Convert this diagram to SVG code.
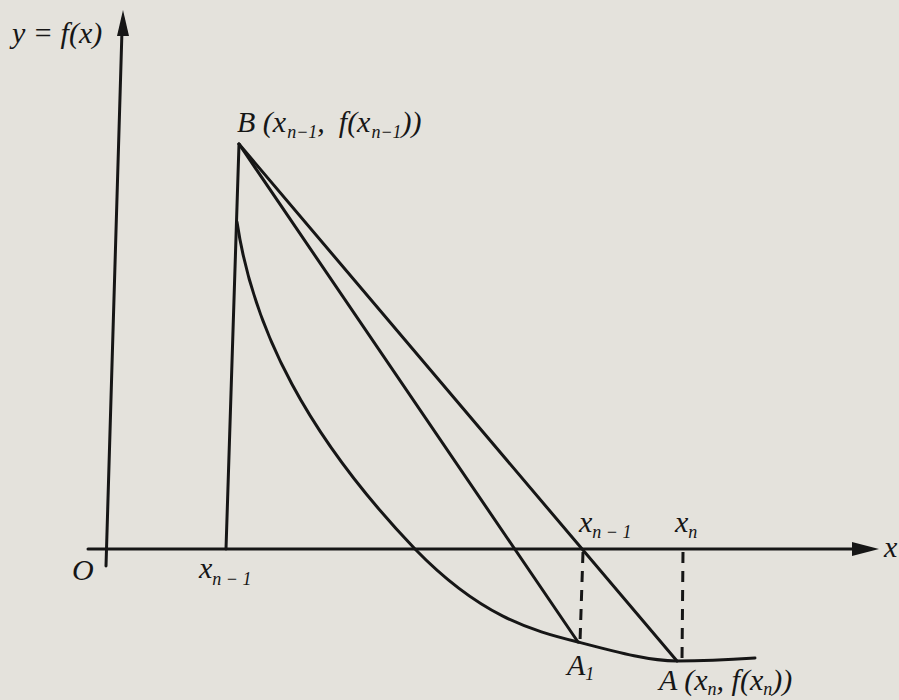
<svg xmlns="http://www.w3.org/2000/svg" width="899" height="700" viewBox="0 0 899 700">
<style>
  .ln { stroke: #161616; stroke-width: 3; fill: none; stroke-linecap: round; }
  .dash { stroke: #161616; stroke-width: 3; fill: none; stroke-dasharray: 11 8; }
  .t { font-family: "Liberation Serif", "Times New Roman", serif; font-style: italic; font-size: 30px; fill: #161616; }
  .s { font-size: 18px; }
  .ar { fill: #161616; }
</style>
<rect x="0" y="0" width="899" height="700" fill="#e4e2dc"/>

<g id="axes">
  <line class="ln" x1="106" y1="566" x2="122" y2="30"/>
  <polygon class="ar" points="123,10 117,36 129,36"/>
  <line class="ln" x1="88" y1="549" x2="858" y2="549"/>
  <polygon class="ar" points="879,549 852,542 852,556"/>
  <text class="t" x="884" y="557" font-size="28">x</text>
  <text class="t" x="72" y="580">O</text>
  <text class="t" x="12" y="43">y = f(x)</text>
</g>

<g id="connectors">
  <line id="vertical-B" class="ln" x1="239" y1="144" x2="226" y2="549"/>
  <line id="secant-BA1" class="ln" x1="239" y1="144" x2="578" y2="642"/>
  <line id="secant-BA" class="ln" x1="239" y1="144" x2="677" y2="661"/>
  <path id="curve" class="ln" d="M237,222 C253,330 308,437 415,549 C480,616 530,630 578,642 C620,653 650,661 677,661 C710,661 740,659 755,658"/>
  <line id="dash-xn1" class="dash" x1="583" y1="552" x2="580" y2="642"/>
  <line id="dash-xn" class="dash" x1="683" y1="552" x2="682" y2="661"/>
</g>

<g id="node-B">
  <text class="t" x="237" y="132">B (x<tspan class="s" dy="6" dx="1">n−1</tspan><tspan dy="-6">,</tspan><tspan dx="14">f(x</tspan><tspan class="s" dy="6" dx="1">n−1</tspan><tspan dy="-6">))</tspan></text>
</g>

<g id="node-xn1-left">
  <text class="t" x="199" y="578">x<tspan class="s" dy="7">n − 1</tspan></text>
</g>

<g id="node-xn1-top">
  <text class="t" x="579" y="532">x<tspan class="s" dy="6">n − 1</tspan></text>
</g>

<g id="node-xn">
  <text class="t" x="675" y="532">x<tspan class="s" dy="6">n</tspan></text>
</g>

<g id="node-A1">
  <text class="t" x="567" y="675">A<tspan class="s" dy="5">1</tspan></text>
</g>

<g id="node-A">
  <text class="t" x="659" y="690">A (x<tspan class="s" dy="5">n</tspan><tspan dy="-5">, f(x</tspan><tspan class="s" dy="5">n</tspan><tspan dy="-5">))</tspan></text>
</g>
</svg>
